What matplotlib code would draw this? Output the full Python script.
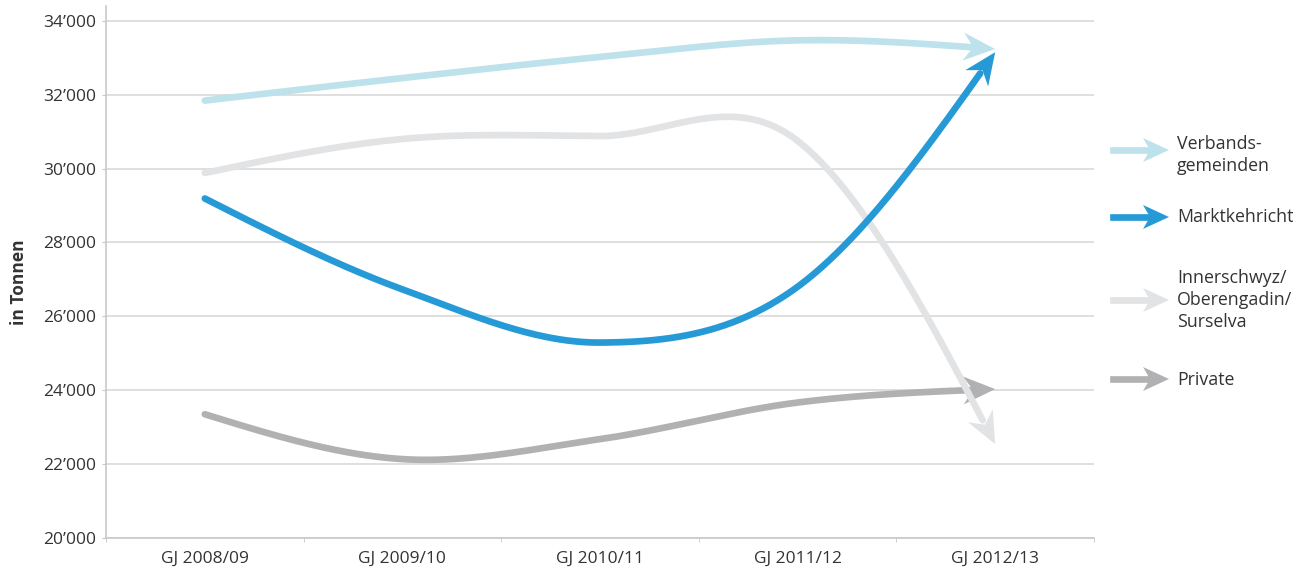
import numpy as np
import matplotlib
matplotlib.use('Agg')
import matplotlib.pyplot as plt
from matplotlib.patches import Polygon
from matplotlib.lines import Line2D
from matplotlib.transforms import IdentityTransform
from matplotlib.ticker import FixedLocator, FuncFormatter

plt.rcParams['font.family'] = ['Open Sans', 'DejaVu Sans']

# Tonnen pro Geschaeftsjahr
years = ['GJ 2008/09', 'GJ 2009/10', 'GJ 2010/11', 'GJ 2011/12', 'GJ 2012/13']
verbandsgemeinden = [31840, 32450, 33020, 33470, 33235]
marktkehricht = [29190, 26730, 25290, 26800, 33150]
innerschwyz = [29880, 30800, 30880, 30750, 22540]
private = [23350, 22135, 22676, 23667, 24030]

labels = ['Verbands-\ngemeinden', 'Marktkehricht',
          'Innerschwyz/\nOberengadin/\nSurselva', 'Private']
colors = ['#bde2ec', '#269ad6', '#e2e3e5', '#b1b1b3']
values = [verbandsgemeinden, marktkehricht, innerschwyz, private]
zorders = [3, 4, 2, 1]

W, H = 1299, 570
fig = plt.figure(figsize=(W / 100, H / 100), dpi=100)
ax = fig.add_axes([106 / W, 32 / H, 988 / W, 532 / H])


def smooth(xs, ys, c=0.5, n=80):
    # cardinal spline, natural ends
    p = np.column_stack([xs, ys]).astype(float)
    m = np.zeros_like(p)
    m[1:-1] = c * (p[2:] - p[:-2])
    m[0] = 1.5 * (p[1] - p[0]) - m[1] / 2
    m[-1] = 1.5 * (p[-1] - p[-2]) - m[-2] / 2
    t = np.linspace(0, 1, n)[:, None]
    h00 = 2 * t**3 - 3 * t**2 + 1
    h10 = t**3 - 2 * t**2 + t
    h01 = -2 * t**3 + 3 * t**2
    h11 = t**3 - t**2
    out = []
    for i in range(len(p) - 1):
        seg = h00 * p[i] + h10 * m[i] + h01 * p[i + 1] + h11 * m[i + 1]
        out.append(seg if i == 0 else seg[1:])
    return np.vstack(out)


def head_polygon(tip, d, length, half, notch):
    n = np.array([-d[1], d[0]])
    back = tip - length * d
    return np.array([tip, back + half * n, tip - (length - notch) * d,
                     back - half * n])


ax.set_xlim(-0.5, 4.5)
ax.set_ylim(20000, 34400)
x = np.arange(len(years))
lw = 4.8
to_px = ax.transData
to_data = ax.transData.inverted()

for vals, col, z in zip(values, colors, zorders):
    curve = smooth(x, vals)
    px = to_px.transform(curve)
    tip = px[-1]
    dist = np.hypot(*(px - tip).T)
    L, half, notch = 32, 14, 10
    body_px = px[dist > (L - notch)]
    # head points from the end of the line body to the tip
    d = (tip - body_px[-1]) / np.linalg.norm(tip - body_px[-1])
    body = to_data.transform(body_px)
    ax.plot(body[:, 0], body[:, 1], color=col, lw=lw, solid_capstyle='round',
            zorder=z)
    ax.add_patch(Polygon(head_polygon(tip, d, L, half, notch), closed=True,
                         facecolor=col, edgecolor='none',
                         transform=IdentityTransform(), zorder=z))

# axes styling
ax.yaxis.set_major_locator(FixedLocator(np.arange(20000, 34001, 2000)))
ax.yaxis.set_major_formatter(FuncFormatter(
    lambda v, p: '{:d}\u2019{:03d}'.format(int(v) // 1000, int(v) % 1000)))
ax.set_xticks(x)
ax.set_xticklabels(years)
ax.set_xticks(np.arange(-0.5, 4.6, 1), minor=True)
ax.tick_params(axis='x', which='major', length=0, pad=9, labelsize=12.5,
               labelcolor='#333333')
ax.tick_params(axis='x', which='minor', length=3, color='#c8c8c8')
ax.tick_params(axis='y', length=3, color='#c8c8c8', pad=4, labelsize=12.5,
               labelcolor='#333333')
ax.grid(axis='y', color='#d9d9d9', lw=1.2)
ax.set_axisbelow(True)
for s in ['top', 'right']:
    ax.spines[s].set_visible(False)
for s in ['left', 'bottom']:
    ax.spines[s].set_color('#c8c8c8')
    ax.spines[s].set_linewidth(1.2)
ax.set_ylabel('in Tonnen', fontsize=12.5, fontweight='bold', color='#333333')
ax.yaxis.set_label_coords(-78 / 988, 0.5 - 10 / 532)

# legend with arrows on the right
leg_y = [150, 217, 300, 379]
txt_y = [155, 217, 300, 380]
for lab, col, y, ty in zip(labels, colors, leg_y, txt_y):
    yd = H - y
    tip = np.array([1169.0, yd])
    d = np.array([1.0, 0.0])
    fig.add_artist(Line2D([1113, 1152], [yd, yd], color=col, lw=lw,
                          transform=IdentityTransform()))
    fig.add_artist(Polygon(head_polygon(tip, d, 26, 12, 7), closed=True,
                           facecolor=col, edgecolor='none',
                           transform=IdentityTransform()))
    fig.text(1177 / W, (H - ty) / H, lab, fontsize=12.8, color='#333333',
             va='center', ha='left', linespacing=1.3)

fig.savefig('out.png', dpi=100)
